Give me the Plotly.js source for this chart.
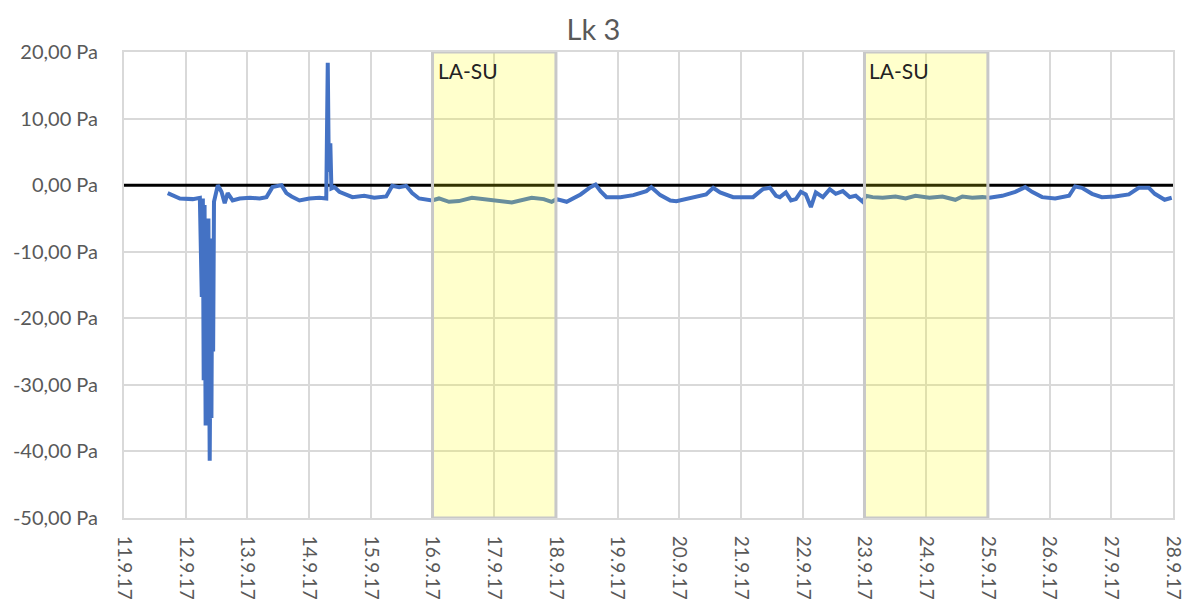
<!DOCTYPE html>
<html>
<head>
<meta charset="utf-8">
<script src="https://cdn.plot.ly/plotly-3.0.1.min.js"></script>
<style>html,body{margin:0;padding:0;background:#fff;}#chart{width:1187px;height:613px;}</style>
</head>
<body>
<div id="chart"></div>
<script>
const chartTitle = "Lk 3";
const times = [
"2017-09-11 17:00","2017-09-11 21:45","2017-09-12 02:45","2017-09-12 05:30","2017-09-12 06:15","2017-09-12 06:40",
"2017-09-12 07:00","2017-09-12 07:20","2017-09-12 07:45","2017-09-12 08:05","2017-09-12 08:30","2017-09-12 08:50",
"2017-09-12 09:20","2017-09-12 09:40","2017-09-12 10:00","2017-09-12 10:20","2017-09-12 10:40","2017-09-12 11:00",
"2017-09-12 12:30","2017-09-12 13:55","2017-09-12 15:10","2017-09-12 16:20","2017-09-12 18:15","2017-09-12 21:00",
"2017-09-13 01:00","2017-09-13 04:45","2017-09-13 07:25","2017-09-13 09:45","2017-09-13 13:15","2017-09-13 15:10",
"2017-09-13 17:10","2017-09-13 20:15","2017-09-14 00:05","2017-09-14 04:00","2017-09-14 06:40","2017-09-14 07:15",
"2017-09-14 07:40","2017-09-14 08:15","2017-09-14 08:40","2017-09-14 09:50","2017-09-14 11:45","2017-09-14 14:30",
"2017-09-14 16:50","2017-09-14 21:25","2017-09-15 01:20","2017-09-15 06:00","2017-09-15 08:20","2017-09-15 11:00",
"2017-09-15 13:45","2017-09-15 16:05","2017-09-15 18:45","2017-09-15 23:50","2017-09-16 02:30","2017-09-16 06:25",
"2017-09-16 10:15","2017-09-16 15:20","2017-09-16 21:55","2017-09-17 01:45","2017-09-17 06:50","2017-09-17 14:35",
"2017-09-17 19:15","2017-09-17 22:20","2017-09-18 00:15","2017-09-18 04:10","2017-09-18 09:35","2017-09-18 13:25",
"2017-09-18 15:25","2017-09-18 17:20","2017-09-18 19:40","2017-09-19 01:05","2017-09-19 06:05","2017-09-19 11:10",
"2017-09-19 13:05","2017-09-19 16:35","2017-09-19 20:30","2017-09-19 22:50","2017-09-20 05:25","2017-09-20 10:25",
"2017-09-20 13:10","2017-09-20 15:50","2017-09-20 20:55","2017-09-21 04:40","2017-09-21 08:30","2017-09-21 11:15",
"2017-09-21 13:35","2017-09-21 15:05","2017-09-21 17:25","2017-09-21 19:25","2017-09-21 21:20","2017-09-21 23:15",
"2017-09-22 01:10","2017-09-22 03:10","2017-09-22 05:05","2017-09-22 07:50","2017-09-22 10:30","2017-09-22 12:50",
"2017-09-22 15:35","2017-09-22 18:15","2017-09-22 20:35","2017-09-22 23:20","2017-09-23 00:30","2017-09-23 03:10",
"2017-09-23 07:05","2017-09-23 12:05","2017-09-23 16:00","2017-09-23 19:50","2017-09-24 01:15","2017-09-24 06:20",
"2017-09-24 11:20","2017-09-24 14:05","2017-09-24 17:55","2017-09-24 21:50","2017-09-25 00:35","2017-09-25 05:35",
"2017-09-25 10:40","2017-09-25 14:30","2017-09-25 17:10","2017-09-25 21:05","2017-09-26 02:10","2017-09-26 07:35",
"2017-09-26 09:55","2017-09-26 12:35","2017-09-26 16:30","2017-09-26 20:20","2017-09-27 01:25","2017-09-27 06:50",
"2017-09-27 10:40","2017-09-27 14:35","2017-09-27 16:55","2017-09-27 20:45","2017-09-27 23:30"
];
const pressure = [
-1.2,-2.0,-2.1,-1.9,-16.8,-2.0,
-29.3,-3.0,-36.1,-10.0,-30.0,-5.0,
-41.4,-20.0,-35.0,-8.0,-25.0,-2.5,
0.0,-1.0,-2.7,-1.2,-2.3,-2.0,
-1.9,-2.0,-1.8,-0.3,0.0,-1.2,
-1.7,-2.3,-2.0,-1.9,-2.0,18.4,
2.0,6.3,-0.5,-0.3,-1.0,-1.5,
-1.8,-1.6,-1.9,-1.7,-0.1,-0.3,
-0.1,-1.2,-2.0,-2.3,-2.0,-2.5,
-2.4,-1.9,-2.2,-2.3,-2.6,-1.9,
-2.1,-2.5,-2.1,-2.5,-1.4,-0.3,
0.1,-0.9,-1.8,-1.8,-1.5,-0.9,
-0.3,-1.5,-2.3,-2.4,-1.9,-1.4,
-0.4,-1.1,-1.8,-1.8,-0.6,-0.4,
-1.6,-1.8,-1.1,-2.3,-2.1,-1.0,
-1.4,-3.3,-1.1,-1.8,-0.6,-1.3,
-0.9,-1.8,-1.6,-2.5,-1.6,-1.8,
-1.9,-1.7,-2.0,-1.6,-1.9,-1.7,
-2.2,-1.7,-1.9,-1.8,-1.9,-1.6,
-1.0,-0.3,-1.0,-1.8,-2.0,-1.6,
-0.2,-0.4,-1.3,-1.8,-1.7,-1.4,
-0.4,-0.4,-1.3,-2.2,-1.9
];
const zeroLineX = ["2017-09-11", "2017-09-28"];
const zeroLineY = [0, 0];
const dayTicks = ["2017-09-11","2017-09-12","2017-09-13","2017-09-14","2017-09-15","2017-09-16","2017-09-17","2017-09-18","2017-09-19","2017-09-20","2017-09-21","2017-09-22","2017-09-23","2017-09-24","2017-09-25","2017-09-26","2017-09-27","2017-09-28"];
const dayLabels = ["11.9.17","12.9.17","13.9.17","14.9.17","15.9.17","16.9.17","17.9.17","18.9.17","19.9.17","20.9.17","21.9.17","22.9.17","23.9.17","24.9.17","25.9.17","26.9.17","27.9.17","28.9.17"];
const yTicks = [20, 10, 0, -10, -20, -30, -40, -50];
const yLabels = ["20,00 Pa","10,00 Pa","0,00 Pa","-10,00 Pa","-20,00 Pa","-30,00 Pa","-40,00 Pa","-50,00 Pa"];
const periodStart = ["2017-09-16", "2017-09-23"];
const periodEnd = ["2017-09-18", "2017-09-25"];
const periodLabel = ["LA-SU", "LA-SU"];

const FONT = "Lato, 'Open Sans', sans-serif";
const traces = [
  {x: zeroLineX, y: zeroLineY, mode: "lines", line: {color: "#000000", width: 3}, hoverinfo: "skip", showlegend: false},
  {x: times, y: pressure, mode: "lines", line: {color: "#4472C4", width: 4}, showlegend: false}
];
const shapes = periodStart.map((s, i) => ({
  type: "rect", xref: "x", yref: "y", x0: s, x1: periodEnd[i], y0: -50, y1: 20,
  fillcolor: "rgba(255,255,0,0.2)", line: {color: "rgb(200,200,200)", width: 3}, layer: "above"
}));
const annotations = periodStart.map((s, i) => ({
  xref: "x", yref: "y", x: s, y: 20, xanchor: "left", yanchor: "top", xshift: 3, yshift: -4,
  text: periodLabel[i], showarrow: false, font: {family: FONT, size: 21, color: "#222222"}
}));
const layout = {
  width: 1187, height: 613,
  margin: {l: 124, r: 14, t: 52, b: 95},
  paper_bgcolor: "#ffffff", plot_bgcolor: "#ffffff",
  title: {text: chartTitle, x: 0.5, xanchor: "center", y: 1 - 30/613, yanchor: "middle", yref: "container",
          font: {family: FONT, size: 29, color: "#595959"}},
  xaxis: {type: "date", range: ["2017-09-11", "2017-09-28"], tickmode: "array", tickvals: dayTicks, ticktext: dayLabels,
          tickangle: 90, showgrid: true, gridcolor: "#d9d9d9", gridwidth: 2, zeroline: false,
          showline: true, mirror: true, linecolor: "#d9d9d9", linewidth: 2, ticklabeloverflow: "allow",
          ticks: "", ticklabelstandoff: 12, tickfont: {family: FONT, size: 19, color: "#595959"}},
  yaxis: {range: [-50, 20], tickmode: "array", tickvals: yTicks, ticktext: yLabels, showgrid: true,
          gridcolor: "#d9d9d9", gridwidth: 2, zeroline: false, showline: true, mirror: true, linecolor: "#d9d9d9",
          linewidth: 2, ticks: "", ticklabelstandoff: 20,
          tickfont: {family: FONT, size: 20, color: "#595959"}},
  shapes: shapes, annotations: annotations, showlegend: false
};
Plotly.newPlot("chart", traces, layout, {displayModeBar: false, staticPlot: true});
</script>
</body>
</html>
